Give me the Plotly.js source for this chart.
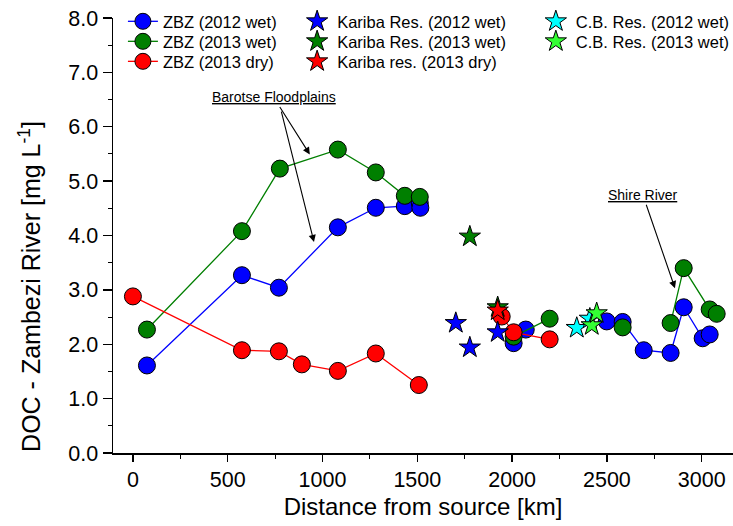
<!DOCTYPE html>
<html>
<head>
<meta charset="utf-8">
<script src="https://cdn.plot.ly/plotly-3.0.1.min.js"></script>
<style>html,body{margin:0;padding:0;background:#fff;}#chart{width:733px;height:526px;}</style>
</head>
<body>
<div id="chart"></div>
<script>
// Distance from source [km] and DOC [mg L-1]
const zbz2012Wet_x = [74, 575, 770, 1081, 1281, 1434, 1513, 1516, null, 2008, 2072, null, 2499, 2583, 2694, 2836, 2905, 3005, 3042];
const zbz2012Wet_y = [1.61, 3.27, 3.04, 4.15, 4.51, 4.54, 4.60, 4.51, null, 2.02, 2.27, null, 2.42, 2.41, 1.89, 1.84, 2.68, 2.11, 2.18];

const zbz2013Wet_x = [74, 575, 775, 1081, 1281, 1434, 1513, null, 2008, 2198, null, 2583, null, 2836, 2905, 3042, 3079];
const zbz2013Wet_y = [2.27, 4.08, 5.23, 5.58, 5.16, 4.73, 4.71, null, 2.14, 2.47, null, 2.31, null, 2.39, 3.40, 2.64, 2.56];

const zbz2013Dry_x = [0, 575, 770, 891, 1081, 1281, 1508, null, 1945, 2008, 2198];
const zbz2013Dry_y = [2.88, 1.89, 1.87, 1.63, 1.51, 1.83, 1.25, null, 2.51, 2.22, 2.09];

const kariba2012Wet_x = [1703, 1777, 1924];
const kariba2012Wet_y = [2.39, 1.94, 2.22];
const kariba2013Wet_x = [1777, 1924];
const kariba2013Wet_y = [3.98, 2.68];
const kariba2013Dry_x = [1924];
const kariba2013Dry_y = [2.62];

const cb2012Wet_x = [2341, 2410];
const cb2012Wet_y = [2.30, 2.47];
const cb2013Wet_x = [2420, 2446];
const cb2013Wet_y = [2.35, 2.57];

const FONT = 'Liberation Sans, Arial, Helvetica, sans-serif';

function circ(name, x, y, color, legend) {
  return {
    type: 'scatter', mode: 'lines+markers', name: name, x: x, y: y,
    legend: legend, connectgaps: false,
    line: {color: color, width: 1.3},
    marker: {symbol: 'circle', size: 17, color: color, line: {color: '#000', width: 1}}
  };
}
function star(name, x, y, color, legend) {
  return {
    type: 'scatter', mode: 'markers', name: name, x: x, y: y, legend: legend,
    marker: {symbol: 'star', size: 16, color: color, line: {color: '#000', width: 1}}
  };
}

const data = [
  circ('ZBZ (2012 wet)', zbz2012Wet_x, zbz2012Wet_y, '#0000FF', 'legend'),
  circ('ZBZ (2013 wet)', zbz2013Wet_x, zbz2013Wet_y, '#007F00', 'legend2'),
  circ('ZBZ (2013 dry)', zbz2013Dry_x, zbz2013Dry_y, '#FF0000', 'legend3'),
  star('Kariba Res. (2012 wet)', kariba2012Wet_x, kariba2012Wet_y, '#0000FF', 'legend4'),
  star('Kariba Res. (2013 wet)', kariba2013Wet_x, kariba2013Wet_y, '#007F00', 'legend5'),
  star('Kariba res. (2013 dry)', kariba2013Dry_x, kariba2013Dry_y, '#FF0000', 'legend6'),
  star('C.B. Res. (2012 wet)', cb2012Wet_x, cb2012Wet_y, '#00FFFF', 'legend7'),
  star('C.B. Res. (2013 wet)', cb2013Wet_x, cb2013Wet_y, '#33FF33', 'legend8')
];

function leg(x, y) {
  return {
    x: x, y: y, yanchor: 'top', xanchor: 'left', bgcolor: 'rgba(0,0,0,0)', borderwidth: 0,
    font: {family: FONT, size: 16.5, color: '#000'}
  };
}
const colX = [0.016, 0.297, 0.682];
const rowY = [1.032, 0.986, 0.940];

const layout = {
  width: 733, height: 526,
  margin: {l: 113, r: 0, t: 18, b: 73, pad: 0, autoexpand: false},
  paper_bgcolor: '#fff', plot_bgcolor: '#fff',
  font: {family: FONT, color: '#000'},
  showlegend: true,
  legend: leg(colX[0], rowY[0]),
  legend2: leg(colX[0], rowY[1]),
  legend3: leg(colX[0], rowY[2]),
  legend4: leg(colX[1], rowY[0]),
  legend5: leg(colX[1], rowY[1]),
  legend6: leg(colX[1], rowY[2]),
  legend7: leg(colX[2], rowY[0]),
  legend8: leg(colX[2], rowY[1]),
  xaxis: {
    range: [-105, 3165], dtick: 500, tick0: 0, automargin: false,
    showgrid: false, zeroline: false, showline: true, linecolor: '#000', linewidth: 1.5,
    ticks: 'outside', ticklen: 7, tickwidth: 1.3, tickcolor: '#000',
    minor: {dtick: 250, ticks: 'outside', ticklen: 4, tickwidth: 1, tickcolor: '#000'},
    tickfont: {family: FONT, size: 21.5, color: '#000'},
    title: {text: 'Distance from source [km]', font: {family: FONT, size: 24, color: '#000'}, standoff: 7}
  },
  yaxis: {
    range: [0, 8], dtick: 1, tick0: 0, tickformat: '.1f', automargin: false,
    showgrid: false, zeroline: false, showline: true, linecolor: '#000', linewidth: 1.5,
    ticks: 'outside', ticklen: 9, tickwidth: 1.3, tickcolor: '#000',
    minor: {dtick: 0.5, ticks: 'outside', ticklen: 4, tickwidth: 1, tickcolor: '#000'},
    tickfont: {family: FONT, size: 21.5, color: '#000'}
  },
  annotations: [
    {x: -0.134, y: 0.384, xref: 'paper', yref: 'paper', xanchor: 'center', yanchor: 'middle',
     textangle: -90, text: 'DOC - Zambezi River [mg L<sup>-1</sup>]', showarrow: false,
     font: {family: FONT, size: 25, color: '#000'}},
    {x: 933, y: 5.49, xref: 'x', yref: 'y', text: '<u>Barotse Floodplains</u>', showarrow: true,
     ax: -36, ay: -57, arrowhead: 2, arrowsize: 1.3, arrowwidth: 1.1, arrowcolor: '#000',
     font: {family: FONT, size: 14, color: '#000'}},
    {x: 955, y: 3.88, xref: 'x', yref: 'y', text: '', showarrow: true, ax: -33, ay: -132,
     arrowhead: 2, arrowsize: 1.3, arrowwidth: 1.1, arrowcolor: '#000'},
    {x: 2859, y: 3.03, xref: 'x', yref: 'y', text: '<u>Shire River</u>', showarrow: true,
     ax: -32, ay: -93, arrowhead: 2, arrowsize: 1.3, arrowwidth: 1.1, arrowcolor: '#000',
     font: {family: FONT, size: 14, color: '#000'}}
  ]
};

Plotly.newPlot('chart', data, layout, {displayModeBar: false, staticPlot: true});
</script>
</body>
</html>
